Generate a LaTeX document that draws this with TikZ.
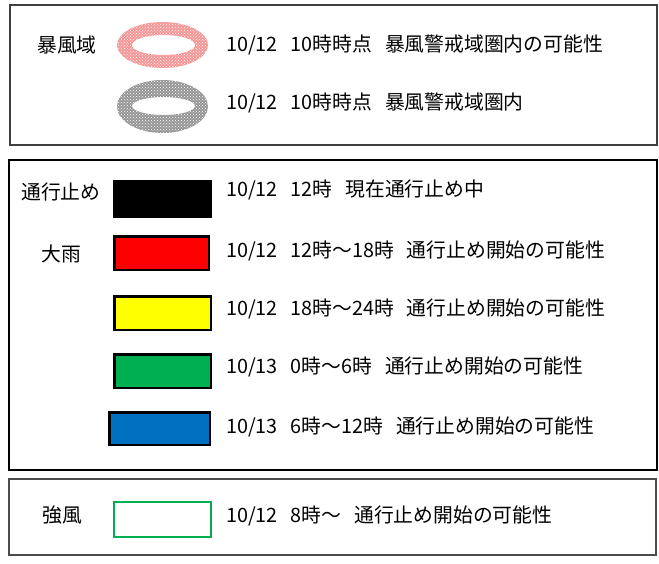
\documentclass[tikz,border=0pt]{standalone}
\usepackage{fontspec}
\setmainfont{Noto Sans CJK JP}
\usetikzlibrary{patterns}

\definecolor{stormpink}{RGB}{245,150,150}
\definecolor{stormgray}{RGB}{150,150,150}
\definecolor{rainred}{RGB}{255,0,0}
\definecolor{rainyellow}{RGB}{255,255,0}
\definecolor{raingreen}{RGB}{0,176,80}
\definecolor{rainblue}{RGB}{0,112,192}

\begin{document}
\begin{tikzpicture}[x=1pt,y=-1pt,
  legendbox/.style={draw=black, line width=1.6pt},
  swatch/.style={draw=black, line width=2.5pt, inner sep=0pt, minimum width=96.5pt, minimum height=33.5pt},
  desc/.style={anchor=west, inner sep=0pt, font=\fontsize{19.8}{23}\selectfont},
  tag/.style={inner sep=0pt, font=\fontsize{19.8}{23}\selectfont}]
\def\gap{\hspace{0.65em}}
\useasboundingbox (0,0) rectangle (659,563);

% frames
\draw[legendbox, draw=black!75] (10,5) rectangle (657,145);
\draw[legendbox] (9,160) rectangle (657,470);
\draw[legendbox, draw=black!70, line width=1.3pt] (9,479) rectangle (656,555);

% storm area rings
\fill[stormpink, even odd rule] (162.5,45) ellipse [x radius=45.5pt, y radius=23pt]
  (163.5,45) ellipse [x radius=31.5pt, y radius=10pt];
\fill[pattern=crosshatch dots, pattern color=white, even odd rule] (162.5,45) ellipse [x radius=45.5pt, y radius=23pt]
  (163.5,45) ellipse [x radius=31.5pt, y radius=10pt];
\fill[stormgray, even odd rule] (162.5,106.5) ellipse [x radius=45.5pt, y radius=26.5pt]
  (163.5,106) ellipse [x radius=31.5pt, y radius=9pt];
\fill[pattern=crosshatch dots, pattern color=white, even odd rule] (162.5,106.5) ellipse [x radius=45.5pt, y radius=26.5pt]
  (163.5,106) ellipse [x radius=31.5pt, y radius=9pt];

\node[tag] (storm) at (67,45) {暴風域};
\node[desc] (stormwarn) at (226,45) {10/12\gap 10時時点\gap 暴風警戒域圏内の可能性};
\node[desc] (stormin) at (226,103) {10/12\gap 10時時点\gap 暴風警戒域圏内};

% road closures
\node[tag] (closed) at (61,192) {通行止め};
\node[tag] (rain) at (61,254) {大雨};
\node[swatch, fill=black, minimum height=35.5pt] (sblack) at (162.5,199) {};
\node[swatch, fill=rainred, minimum width=94.5pt] (sred) at (161.5,253) {};
\node[swatch, fill=rainyellow] (syellow) at (162.5,313) {};
\node[swatch, fill=raingreen] (sgreen) at (162.5,371) {};
\node[swatch, fill=rainblue, minimum width=100.5pt, minimum height=32.5pt] (sblue) at (159.5,428.5) {};
\node[desc] (tblack) at (226,190) {10/12\gap 12時\gap 現在通行止め中};
\node[desc] (tred) at (226,251) {10/12\gap 12時～18時\gap 通行止め開始の可能性};
\node[desc] (tyellow) at (226,309) {10/12\gap 18時～24時\gap 通行止め開始の可能性};
\node[desc] (tgreen) at (226,367) {10/13\gap 0時～6時\gap 通行止め開始の可能性};
\node[desc] (tblue) at (226,427) {10/13\gap 6時～12時\gap 通行止め開始の可能性};

% strong wind
\node[tag] (wind) at (62,515) {強風};
\node[swatch, draw=raingreen, line width=2pt, fill=white, minimum width=97pt, minimum height=35pt] (swind) at (162.5,519.5) {};
\node[desc] (twind) at (226,516) {10/12\gap 8時～\gap 通行止め開始の可能性};
\end{tikzpicture}
\end{document}
